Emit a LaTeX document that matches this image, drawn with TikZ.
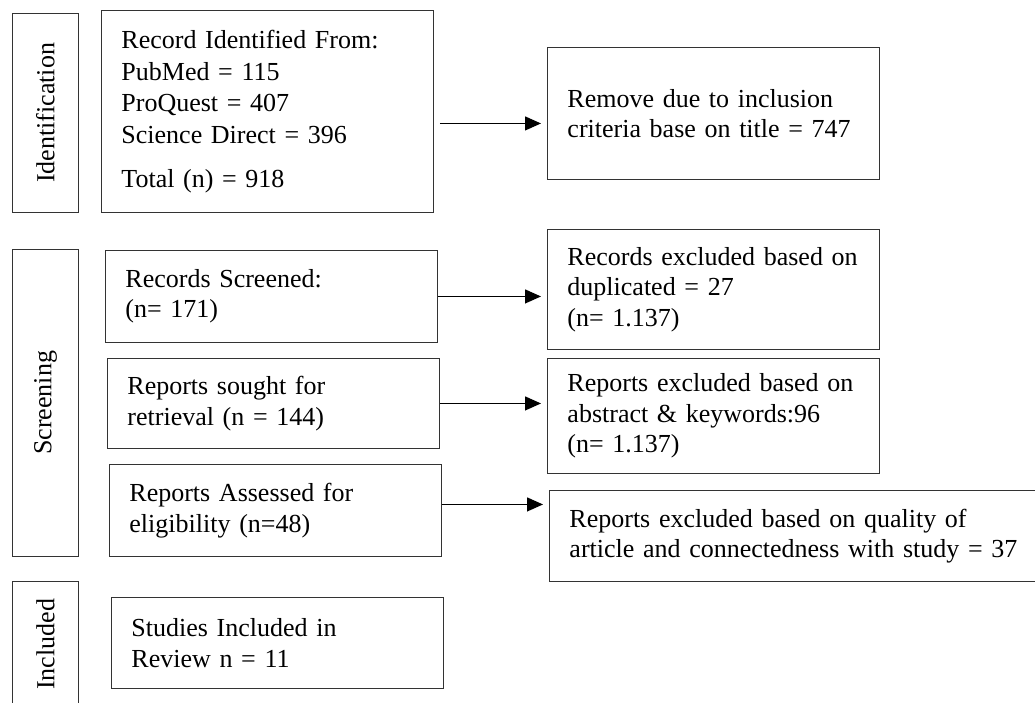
\documentclass[tikz,border=0pt]{standalone}
\usepackage{fontspec}
\setmainfont{Liberation Serif}
\usetikzlibrary{arrows.meta}
\newcommand\boxfont{\fontsize{26}{30.5}\selectfont}
\newcommand\recfont{\fontsize{26}{31.7}\selectfont}
\tikzset{
  box/.style={draw=black!80, line width=0.9pt, anchor=north west, inner xsep=20pt, inner ysep=0pt, align=left, font=\boxfont, text width=292pt},
  side/.style={draw=black!80, line width=0.9pt, anchor=north west, minimum width=66pt, inner sep=0pt, font=\boxfont},
  arr/.style={-{Triangle[length=16pt,width=14pt]}, line width=1.2pt, shorten >=6pt}
}
\begin{document}
\begin{tikzpicture}[x=1pt,y=-1pt]
\useasboundingbox (0,0) rectangle (1035,703);
% phase labels
\node[side, minimum height=199pt] (ident) at (12,13) {\rotatebox{90}{Identification}};
\node[side, minimum height=307pt] (screen) at (12,249) {\rotatebox{90}{Screening}};
\node[side, minimum height=126pt] (incl) at (12,581) {\rotatebox{90}{Included}};
% left column
\node[box, minimum height=202pt, font=\recfont] (rec) at (101,10) {\mbox{Record Identified From:}\\ PubMed = 115\\ ProQuest = 407\\ \mbox{Science Direct = 396}\\[12pt] Total (n) = 918};
\node[box, minimum height=92pt] (rs) at (105,250) {Records Screened:\\ (n= 171)};
\node[box, minimum height=90pt] (so) at (107,358) {Reports sought for\\ \mbox{retrieval (n = 144)}};
\node[box, minimum height=92pt] (as) at (109,464) {\mbox{Reports Assessed for}\\ eligibility (n=48)};
\node[box, minimum height=91pt] (st) at (111,597) {Studies Included in\\ Review n = 11};
% right column
\node[box, minimum height=132pt] (rem) at (547,47) {\mbox{Remove due to inclusion}\\ \mbox{criteria base on title = 747}};
\node[box, minimum height=120pt] (re1) at (547,229) {\mbox{Records excluded based on}\\ duplicated = 27\\ (n= 1.137)};
\node[box, minimum height=115pt] (re2) at (547,358) {\mbox{Reports excluded based on}\\ \mbox{abstract \& keywords:96}\\ (n= 1.137)};
\node[box, minimum height=91pt, text width=460pt] (q) at (549,490) {\mbox{Reports excluded based on quality of}\\ \mbox{article and connectedness with study = 37}};
% connectors
\draw[arr, shorten <=6pt] ([yshift=-12pt]rec.east) -- ([yshift=-12pt]rec.east -| rem.west);
\draw[arr] (rs.east) -- (rs.east -| re1.west);
\draw[arr] (so.east) -- (so.east -| re2.west);
\draw[arr] ([yshift=6pt]as.east) -- ([yshift=6pt]as.east -| q.west);
\end{tikzpicture}
\end{document}
